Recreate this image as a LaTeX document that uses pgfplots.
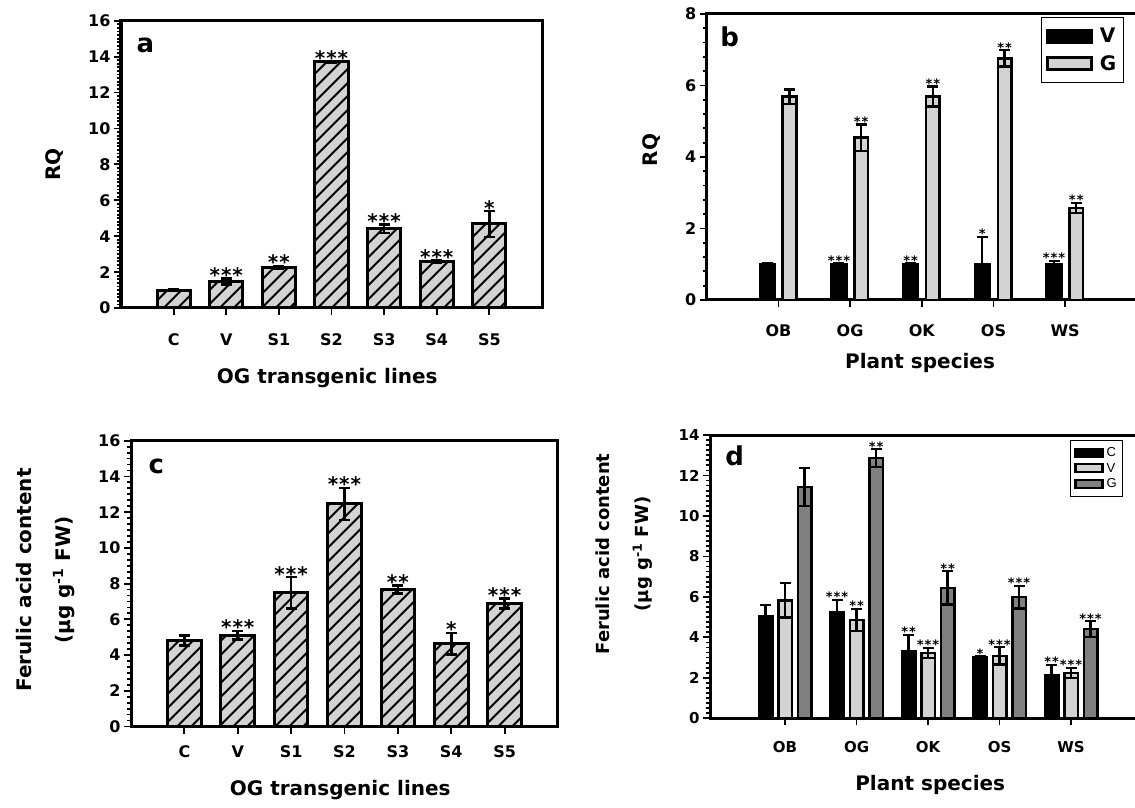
\documentclass[border=0pt]{standalone}
\usepackage{fontspec}
\setmainfont{DejaVu Sans}
\newfontfamily\arial{Liberation Sans}
\usepackage{pgfplots}
\usepackage{pgfplotstable}
\pgfplotsset{compat=1.18}
\usetikzlibrary{patterns.meta}

\newcommand{\stA}{*}
\newcommand{\stB}{*\kern1pt*}
\newcommand{\stC}{*\kern1pt*\kern1pt*}

\pgfplotstableread{
x y e s
1 1.00 0.04 {}
2 1.47 0.17 {\stC}
3 2.27 0.08 {\stB}
4 13.70 0.05 {\stC}
5 4.42 0.24 {\stC}
6 2.58 0.07 {\stC}
7 4.68 0.72 {\stA}
}\dataA

\pgfplotstableread{
x y e s
1 4.83 0.28 {}
2 5.11 0.24 {\stC}
3 7.49 0.87 {\stC}
4 12.46 0.90 {\stC}
5 7.67 0.22 {\stB}
6 4.64 0.60 {\stA}
7 6.87 0.28 {\stC}
}\dataC

\pgfplotstableread{
x v ve vs g ge gs
1 1.00 0.04 {} 5.69 0.20 {}
2 1.00 0.03 {\stC} 4.54 0.37 {\stB}
3 1.00 0.03 {\stB} 5.69 0.28 {\stB}
4 1.00 0.77 {\stA} 6.76 0.23 {\stB}
5 1.00 0.10 {\stC} 2.58 0.14 {\stB}
}\dataB

\pgfplotstableread{
x c ce cs v ve vs g ge gs
1 5.04 0.54 {} 5.83 0.85 {} 11.42 0.94 {}
2 5.23 0.63 {\stC} 4.87 0.55 {\stB} 12.86 0.44 {\stB}
3 3.31 0.82 {\stB} 3.23 0.25 {\stC} 6.44 0.82 {\stB}
4 3.01 0.05 {\stA} 3.09 0.43 {\stC} 5.99 0.56 {\stC}
5 2.12 0.53 {\stB} 2.24 0.25 {\stC} 4.41 0.38 {\stC}
}\dataD

\definecolor{lgray}{HTML}{D3D3D3}
\definecolor{dgray}{HTML}{808080}

\pgfplotsset{
  panel/.style={
    scale only axis, anchor=south west, clip=false,
    axis line style={line width=3pt},
    tick pos=left, tick align=outside,
    major tick length=7pt, minor tick length=4pt,
    tick style={line width=1.8pt, black},
    /pgf/number format/assume math mode=true,
    ticklabel style={font=\bfseries\fontsize{16}{16}\selectfont},
    label style={font=\bfseries\fontsize{20}{24}\selectfont},
    ylabel style={anchor=center},
    xlabel style={anchor=center},
  },
  hatchbar/.style={ybar, bar shift=0pt, bar width=0.63, draw=black, line width=3pt,
    fill=lgray, postaction={pattern={Lines[angle=45,distance=10.5pt,line width=2.4pt]}},
    error bars/y dir=both, error bars/y explicit,
    error bars/error bar style={line width=2.6pt, black},
    error bars/error mark options={rotate=90, line width=2.6pt, mark size=5.5pt, black}},
  smallbar/.style={ybar, bar shift=0pt, draw=black, line width=2.5pt, forget plot,
    error bars/y dir=both, error bars/y explicit,
    error bars/error bar style={line width=2.2pt, black},
    error bars/error mark options={rotate=90, line width=2.2pt, mark size=5.5pt, black}},
  stars/.style={draw=none, mark=none, forget plot, nodes near coords,
    point meta=explicit symbolic,
    nodes near coords style={anchor=base, inner sep=0pt, yshift=-4pt,
      font=\bfseries\fontsize{20}{20}\selectfont}},
  smallstars/.style={draw=none, mark=none, forget plot, nodes near coords,
    point meta=explicit symbolic,
    nodes near coords style={anchor=base, inner sep=0pt, yshift=-2pt,
      font=\bfseries\fontsize{13}{13}\selectfont}},
}

\begin{document}
\begin{tikzpicture}

% ---------- panel a ----------
\begin{axis}[panel, at={(121pt,499pt)}, width=421pt, height=287.3pt,
  xmin=0, xmax=8, ymin=0, ymax=16, ytick={0,2,...,16}, minor y tick num=9,
  xtick={1,...,7}, xticklabels={C,V,S1,S2,S3,S4,S5},
  xticklabel style={yshift=-15pt},
  xlabel={OG transgenic lines}, ylabel={RQ},
  xlabel style={at={(axis description cs:0.49,-0.244)}},
  ylabel style={at={(axis description cs:-0.159,0.5)}},
]
\addplot[hatchbar] table[x=x, y=y, y error=e] {\dataA};
\addplot[stars] table[x=x, y expr=\thisrow{y}+\thisrow{e}, meta=s] {\dataA};
\node[anchor=base west, font=\bfseries\fontsize{26}{26}\selectfont] at (axis description cs:0.0285,0.888) {a};
\end{axis}

% ---------- panel b ----------
\begin{axis}[panel, at={(706.7pt,507pt)}, width=444.5pt, height=286pt,
  xmin=0, xmax=6.2, ymin=0, ymax=8, ytick={0,2,...,8}, minor y tick num=4,
  xtick={1,...,5}, xticklabels={OB,OG,OK,OS,WS},
  xticklabel style={yshift=-14pt},
  xlabel={Plant species}, ylabel={RQ},
  xlabel style={at={(axis description cs:0.48,-0.22)}},
  ylabel style={at={(axis description cs:-0.123,0.524)}},
  legend style={at={(axis description cs:0.752,0.99)}, anchor=north west,
    draw=black, line width=1pt, inner xsep=5pt, inner ysep=9pt,
    font=\bfseries\fontsize{20}{20}\selectfont, row sep=7pt},
  legend cell align=left,
]
\addplot[smallbar, bar width=0.21, fill=black] table[x expr=\thisrow{x}-0.155, y=v, y error=ve] {\dataB};
\addplot[smallbar, bar width=0.19, fill=lgray] table[x expr=\thisrow{x}+0.155, y=g, y error=ge] {\dataB};
\addplot[smallstars] table[x expr=\thisrow{x}-0.155, y expr=\thisrow{v}+\thisrow{ve}, meta=vs] {\dataB};
\addplot[smallstars] table[x expr=\thisrow{x}+0.155, y expr=\thisrow{g}+\thisrow{ge}, meta=gs] {\dataB};
\addlegendimage{legend image code/.code={\draw[fill=black, draw=black, line width=2.5pt] (0pt,-6pt) rectangle (44pt,6pt);}}
\addlegendentry{\hspace{5pt}V\hspace{18pt}}
\addlegendimage{legend image code/.code={\draw[fill=lgray, draw=black, line width=2.5pt] (0pt,-6pt) rectangle (44pt,6pt);}}
\addlegendentry{\hspace{5pt}G\hspace{18pt}}
\node[anchor=base west, font=\bfseries\fontsize{26}{26}\selectfont] at (axis description cs:0.023,0.885) {b};
\end{axis}

% ---------- panel c ----------
\begin{axis}[panel, at={(131pt,80.5pt)}, width=427pt, height=285.8pt,
  xmin=0, xmax=8, ymin=0, ymax=16, ytick={0,2,...,16}, minor y tick num=5,
  xtick={1,...,7}, xticklabels={C,V,S1,S2,S3,S4,S5},
  xticklabel style={yshift=-9pt},
  xlabel={OG transgenic lines},
  ylabel={Ferulic acid content\\(µg g\textsuperscript{-1} FW)},
  ylabel style={align=center, font=\bfseries\fontsize{20}{39}\selectfont,
    at={(axis description cs:-0.2,0.513)}},
  xlabel style={at={(axis description cs:0.49,-0.222)}},
]
\addplot[hatchbar] table[x=x, y=y, y error=e] {\dataC};
\addplot[stars] table[x=x, y expr=\thisrow{y}+\thisrow{e}, meta=s] {\dataC};
\node[anchor=base west, font=\bfseries\fontsize{26}{26}\selectfont] at (axis description cs:0.033,0.887) {c};
\end{axis}

% ---------- panel d ----------
\begin{axis}[panel, at={(710pt,88.7pt)}, width=454pt, height=283.3pt,
  xmin=-0.05, xmax=6.3, ymin=0, ymax=14, ytick={0,2,...,14}, minor y tick num=7,
  ticklabel style={font=\bfseries\fontsize{15}{15}\selectfont},
  xtick={1,...,5}, xticklabels={OB,OG,OK,OS,WS},
  xticklabel style={yshift=-13pt},
  xlabel={Plant species},
  ylabel={Ferulic acid content\\(µg g\textsuperscript{-1} FW)},
  ylabel style={align=center, font=\bfseries\fontsize{18}{39}\selectfont,
    at={(axis description cs:-0.19,0.58)}},
  xlabel style={at={(axis description cs:0.485,-0.235)}},
  legend style={at={(axis description cs:0.793,0.982)}, anchor=north west,
    draw=black, line width=0.8pt, inner xsep=4pt, inner ysep=5pt,
    font=\arial\fontsize{13}{13}\selectfont, row sep=1pt},
  legend cell align=left,
]
\addplot[smallbar, bar width=0.19, fill=black] table[x expr=\thisrow{x}-0.273, y=c, y error=ce] {\dataD};
\addplot[smallbar, bar width=0.19, fill=lgray] table[x=x, y=v, y error=ve] {\dataD};
\addplot[smallbar, bar width=0.19, fill=dgray] table[x expr=\thisrow{x}+0.273, y=g, y error=ge] {\dataD};
\addplot[smallstars] table[x expr=\thisrow{x}-0.273, y expr=\thisrow{c}+\thisrow{ce}, meta=cs] {\dataD};
\addplot[smallstars] table[x=x, y expr=\thisrow{v}+\thisrow{ve}, meta=vs] {\dataD};
\addplot[smallstars] table[x expr=\thisrow{x}+0.273, y expr=\thisrow{g}+\thisrow{ge}, meta=gs] {\dataD};
\addlegendimage{legend image code/.code={\draw[fill=black, draw=black, line width=2.2pt] (0pt,-4pt) rectangle (27pt,4pt);}}
\addlegendentry{\hspace{1pt}C\hspace{15pt}}
\addlegendimage{legend image code/.code={\draw[fill=lgray, draw=black, line width=2.2pt] (0pt,-4pt) rectangle (27pt,4pt);}}
\addlegendentry{\hspace{1pt}V\hspace{15pt}}
\addlegendimage{legend image code/.code={\draw[fill=dgray, draw=black, line width=2.2pt] (0pt,-4pt) rectangle (27pt,4pt);}}
\addlegendentry{\hspace{1pt}G\hspace{15pt}}
\node[anchor=base west, font=\bfseries\fontsize{26}{26}\selectfont] at (axis description cs:0.026,0.894) {d};
\end{axis}

\pgfresetboundingbox
\useasboundingbox (0,0) rectangle (1135pt,807pt);
\end{tikzpicture}
\end{document}
